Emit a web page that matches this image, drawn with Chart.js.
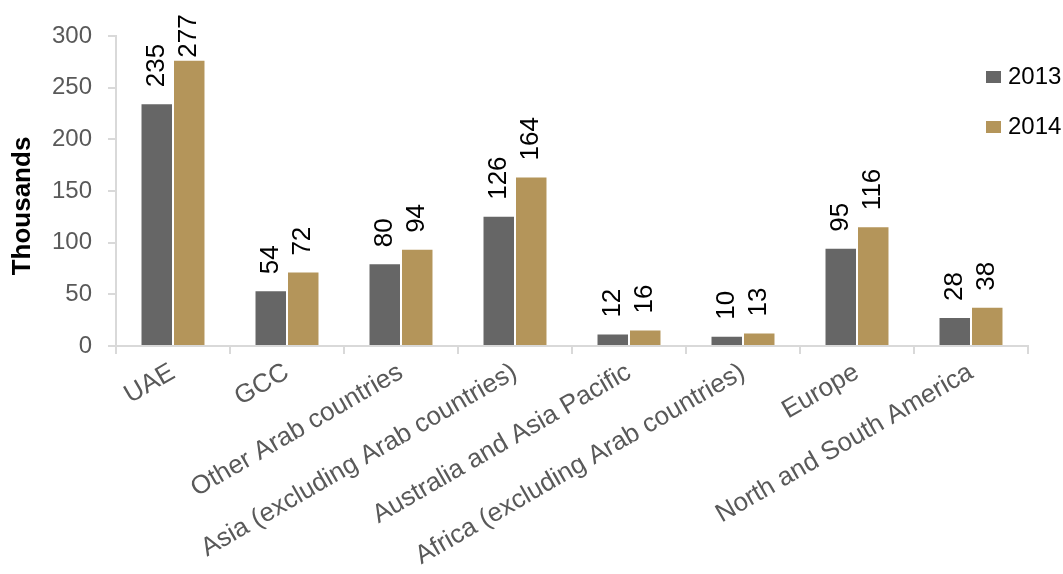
<!DOCTYPE html>
<html><head><meta charset="utf-8">
<script src="https://cdn.jsdelivr.net/npm/chart.js@4"></script>
<style>html,body{margin:0;padding:0;background:#fff}#wrap{width:1063px;height:574px}</style>
</head><body><div id="wrap"><canvas id="c" width="1063" height="574"></canvas></div>
<script>
const categories = ["UAE","GCC","Other Arab countries","Asia (excluding Arab countries)","Australia and Asia Pacific","Africa (excluding Arab countries)","Europe","North and South America"];
const values2013 = [235,54,80,126,12,10,95,28];
const values2014 = [277,72,94,164,16,13,116,38];
const seriesLabels = ["2013","2014"];
const yTicks = [0,50,100,150,200,250,300];
const yTitle = "Thousands";

const FONT = "'Liberation Sans', Arial, sans-serif";
const colors = ["#666666","#b4955a"];

const labelPlugin = {
  id:'barLabels',
  afterDatasetsDraw(chart){
    const ctx = chart.ctx;
    ctx.save();
    ctx.font = "26px " + FONT;
    ctx.fillStyle = "#000";
    ctx.textBaseline = "middle";
    ctx.textAlign = "left";
    chart.data.datasets.forEach((ds,di)=>{
      chart.getDatasetMeta(di).data.forEach((bar,i)=>{
        const txt = String(ds.data[i]);
        const w = ctx.measureText(txt).width;
        let bottom = bar.y - 16;
        if (bottom - w < 12) bottom = Math.max(12 + w, bar.y - 2);
        ctx.save();
        ctx.translate(bar.x, bottom);
        ctx.rotate(-Math.PI/2);
        ctx.fillText(txt, 0, 0);
        ctx.restore();
      });
    });
    ctx.restore();
  }
};

const legendPlugin = {
  id:'customLegend',
  afterDraw(chart){
    const ctx = chart.ctx;
    ctx.save();
    ctx.font = "24px " + FONT;
    ctx.textBaseline = "middle";
    ctx.textAlign = "left";
    chart.data.datasets.forEach((ds,i)=>{
      const cy = 77 + i*50;
      ctx.fillStyle = ds.backgroundColor;
      ctx.fillRect(986, cy-6, 15, 12);
      ctx.fillStyle = "#000";
      ctx.fillText(ds.label, 1008, cy);
    });
    // y axis title
    ctx.font = "bold 26px " + FONT;
    ctx.textAlign = "center";
    ctx.translate(23, 206);
    ctx.rotate(-Math.PI/2);
    ctx.fillText(yTitle, 0, 0);
    ctx.restore();
  }
};

new Chart(document.getElementById('c'), {
  type:'bar',
  data:{
    labels: categories,
    datasets:[
      {label:seriesLabels[0], data:values2013, backgroundColor:colors[0], borderColor:"rgba(255,255,255,0.3)", borderWidth:1, categoryPercentage:0.57, barPercentage:1.0},
      {label:seriesLabels[1], data:values2014, backgroundColor:colors[1], borderColor:"rgba(255,255,255,0.3)", borderWidth:1, categoryPercentage:0.57, barPercentage:1.0}
    ]
  },
  options:{
    responsive:false,
    animation:false,
    devicePixelRatio:1,
    layout:{padding:{top:36,right:35,left:0,bottom:0}},
    plugins:{legend:{display:false},tooltip:{enabled:false}},
    scales:{
      x:{
        grid:{display:true,drawOnChartArea:false,drawTicks:true,tickLength:8,color:"#d9d9d9",lineWidth:2,offset:true},
        border:{display:true,color:"#d9d9d9",width:2},
        ticks:{autoSkip:false,minRotation:30,maxRotation:30,padding:3,color:"#595959",font:{family:FONT,size:26}},
        afterFit(s){ s.height = 228; }
      },
      y:{
        min:0,max:300,
        afterBuildTicks(s){ s.ticks = yTicks.map(v=>({value:v})); },
        grid:{display:true,drawOnChartArea:false,drawTicks:true,tickLength:8,color:"#d9d9d9",lineWidth:2},
        border:{display:true,color:"#d9d9d9",width:2},
        ticks:{padding:16,color:"#595959",font:{family:FONT,size:24}},
        title:{display:false},
        afterFit(s){ s.width = 116; }
      }
    }
  },
  plugins:[labelPlugin, legendPlugin]
});
</script></body></html>
